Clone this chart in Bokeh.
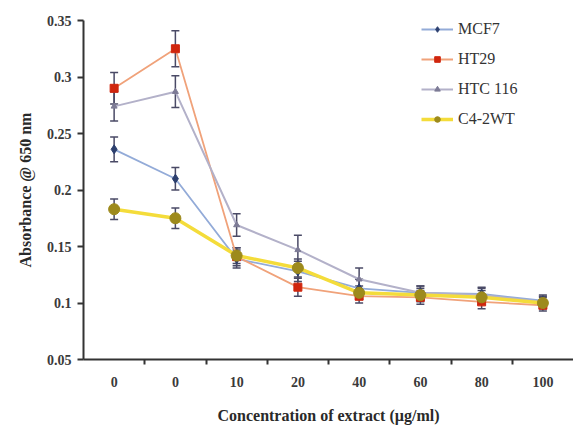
from bokeh.plotting import figure
from bokeh.models import (ColumnDataSource, Whisker, TeeHead, FixedTicker,
                          Legend, LegendItem, Range1d)
from bokeh.embed import file_html
from bokeh.resources import INLINE

# ---- data ----
x_labels = ["0", "0", "10", "20", "40", "60", "80", "100"]
series_names = ["MCF7", "HT29", "HTC 116", "C4-2WT"]
mcf7 = [0.236, 0.210, 0.139, 0.128, 0.113, 0.109, 0.108, 0.102]
ht29 = [0.290, 0.325, 0.141, 0.114, 0.106, 0.105, 0.101, 0.098]
htc116 = [0.274, 0.287, 0.169, 0.147, 0.121, 0.109, 0.107, 0.101]
c42wt = [0.183, 0.175, 0.142, 0.131, 0.109, 0.107, 0.105, 0.100]
mcf7_err = [0.011, 0.010, 0.008, 0.009, 0.008, 0.006, 0.006, 0.005]
ht29_err = [0.014, 0.016, 0.008, 0.008, 0.006, 0.006, 0.006, 0.005]
htc116_err = [0.013, 0.014, 0.010, 0.013, 0.010, 0.006, 0.006, 0.005]
c42wt_err = [0.009, 0.009, 0.007, 0.008, 0.006, 0.006, 0.006, 0.005]
y_ticks = [0.05, 0.1, 0.15, 0.2, 0.25, 0.3, 0.35]

xs = list(range(1, len(x_labels) + 1))

p = figure(width=573, height=426, output_backend="svg", toolbar_location=None,
           x_range=Range1d(0.5, len(x_labels) + 0.5), y_range=Range1d(0.05, 0.35),
           min_border_left=83, min_border_top=20, min_border_right=0,
           min_border_bottom=64)
p.outline_line_color = None
p.grid.visible = False
p.background_fill_color = "white"

serif = "Liberation Serif"

# x axis
p.xaxis.ticker = FixedTicker(ticks=xs, minor_ticks=[v + 0.5 for v in xs[:-1]])
p.xaxis.major_label_overrides = {v: lab for v, lab in zip(xs, x_labels)}
p.xaxis.major_tick_out = 0
p.xaxis.major_tick_in = 0
p.xaxis.minor_tick_out = 5
p.xaxis.minor_tick_in = 0
p.xaxis.minor_tick_line_color = "#333333"
p.xaxis.minor_tick_line_width = 2
p.xaxis.axis_label = "Concentration of extract (\u00b5g/ml)"

# y axis
p.yaxis.ticker = FixedTicker(ticks=y_ticks, minor_ticks=[])
p.yaxis.major_label_overrides = {v: str(v) for v in y_ticks}
p.yaxis.major_tick_out = 6
p.yaxis.major_tick_in = 0
p.yaxis.axis_label = "Absorbance @ 650 nm"

for ax in (p.xaxis[0], p.yaxis[0]):
    ax.axis_line_color = "#333333"
    ax.axis_line_width = 2
    ax.major_tick_line_color = "#333333"
    ax.major_tick_line_width = 2
    ax.major_label_text_font = serif
    ax.major_label_text_font_style = "bold"
    ax.major_label_text_font_size = "14px"
    ax.major_label_text_color = "#3a3a3a"
    ax.axis_label_text_font = serif
    ax.axis_label_text_font_style = "bold"
    ax.axis_label_text_font_size = "16px"
    ax.axis_label_text_color = "#2a2a2a"

p.xaxis.major_label_standoff = 12
p.xaxis.axis_label_standoff = 17
p.yaxis.major_label_standoff = 6
p.yaxis.axis_label_standoff = 10

styles = [
    dict(line="#93abd8", lw=1.8, marker="diamond", mcolor="#2c3f6e", size=9),
    dict(line="#f0a27a", lw=1.8, marker="square", mcolor="#d0260e", size=8),
    dict(line="#b3b1c9", lw=2.0, marker="triangle", mcolor="#7d7b96", size=6),
    dict(line="#f4dc3a", lw=3.5, marker="circle", mcolor="#9d8a1c", size=11),
]
values = [mcf7, ht29, htc116, c42wt]
errs = [mcf7_err, ht29_err, htc116_err, c42wt_err]

items = []
for name, vals, err, st in zip(series_names, values, errs, styles):
    src = ColumnDataSource(dict(
        x=xs, y=vals,
        upper=[v + e for v, e in zip(vals, err)],
        lower=[v - e for v, e in zip(vals, err)]))
    ln = p.line("x", "y", source=src, line_color=st["line"], line_width=st["lw"])
    wh = Whisker(base="x", upper="upper", lower="lower", source=src,
                 line_color="#4a4a66", line_width=1.5,
                 upper_head=TeeHead(size=8, line_color="#4a4a66", line_width=1.5),
                 lower_head=TeeHead(size=8, line_color="#4a4a66", line_width=1.5))
    p.add_layout(wh)
    sc = p.scatter("x", "y", source=src, marker=st["marker"], size=st["size"],
                   fill_color=st["mcolor"], line_color=st["mcolor"])
    items.append(LegendItem(label=name, renderers=[ln, sc]))

legend = Legend(items=items, location=(338, 230), border_line_color=None,
                background_fill_alpha=0.0, label_text_font=serif,
                label_text_font_size="16px", label_text_color="#333333",
                glyph_width=32, glyph_height=14, label_height=20,
                spacing=10, padding=5, label_standoff=5)
p.add_layout(legend, "center")

open("out.html", "w").write(file_html(p, INLINE))
